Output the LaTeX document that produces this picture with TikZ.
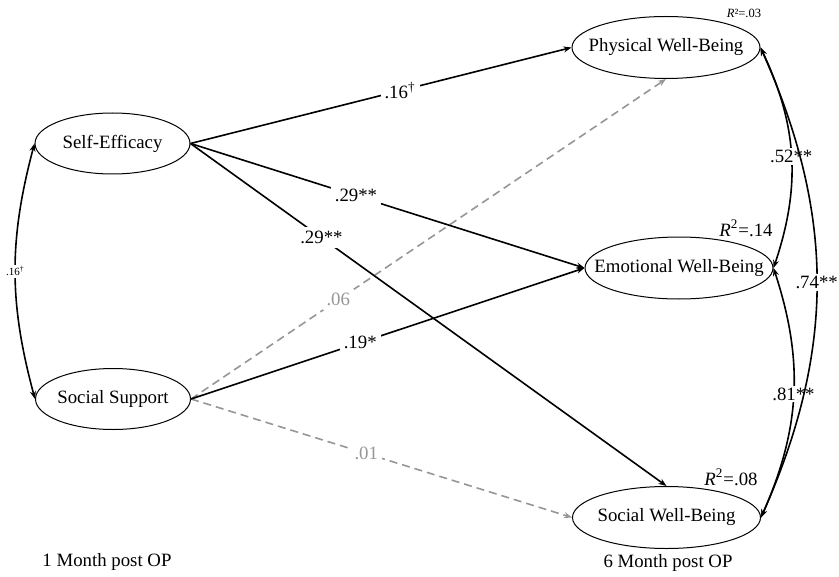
\documentclass[tikz,border=0pt]{standalone}
\usepackage{fontspec}
\setmainfont{Liberation Serif}
\usetikzlibrary{shapes.geometric,arrows.meta}
\definecolor{nsgray}{RGB}{150,150,150}
\begin{document}
\begin{tikzpicture}[x=0.5pt,y=-0.5pt,
  font=\fontsize{9.4}{11}\selectfont,
  var/.style={ellipse,draw,line width=0.5pt,minimum width=77.5pt,minimum height=30.5pt,inner xsep=-10pt,inner ysep=0pt},
  outc/.style={var,minimum width=94pt,minimum height=31pt},
  path/.style={line width=0.8pt,-{Stealth[length=4pt,width=3pt]}},
  nspath/.style={path,nsgray,dash pattern=on 4pt off 2.5pt},
  cov/.style={line width=0.8pt,{Stealth[length=4pt,width=3pt]}-{Stealth[length=4pt,width=3pt]}},
  coef/.style={fill=white,inner sep=2pt}]
\useasboundingbox (0,0) rectangle (839,577);
\node[var] (se) at (112.5,143.5) {Self-Efficacy};
\node[var] (ss) at (113,399) {Social Support};
\node[outc] (pwb) at (666,47.5) {Physical Well-Being};
\node[outc] (ewb) at (679,268) {Emotional Well-Being};
\node[outc] (swb) at (666.5,517.5) {Social Well-Being};
\node (r1) at (744,13) {\fontsize{6.3}{7}\selectfont\textit{R}²=.03};
\node (r2) at (746,228) {\textit{R}\textsuperscript{2}=.14};
\node (r3) at (731,477) {\textit{R}\textsuperscript{2}=.08};
\node (t1) at (107,562) {1 Month post OP};
\node (t6) at (668,563) {6 Month post OP};
\draw[nspath] (ss.east) -- node[coef,pos=0.31,text=nsgray] {.06} (pwb.south);
\draw[nspath] (ss.east) -- node[coef,pos=0.46,text=nsgray] {.01} (swb.west);
\draw[path] (se.east) -- node[coef,pos=0.55] {.16\textsuperscript{†}} (pwb.west);
\draw[path] (se.east) -- node[coef,pos=0.42] {.29**} (ewb.west);
\draw[path] (se.east) -- node[coef,pos=0.275] {.29**} (swb.north);
\draw[path] (ss.east) -- node[coef,pos=0.43] {.19*} (ewb.west);
\draw[cov] (se.west) to[bend right=15] node[coef,inner sep=1pt,font=\fontsize{5.5}{6}\selectfont] {.16\textsuperscript{†}} (ss.west);
\draw[cov] (pwb.east) to[bend left=22] node[coef,inner sep=1pt] {.52**} (ewb.east);
\draw[cov] (ewb.east) to[bend left=21] node[coef,inner sep=1pt] {.81**} (swb.east);
\draw[cov] (pwb.east) to[bend left=24] node[coef,inner sep=1pt] {.74**} (swb.east);
\end{tikzpicture}
\end{document}
